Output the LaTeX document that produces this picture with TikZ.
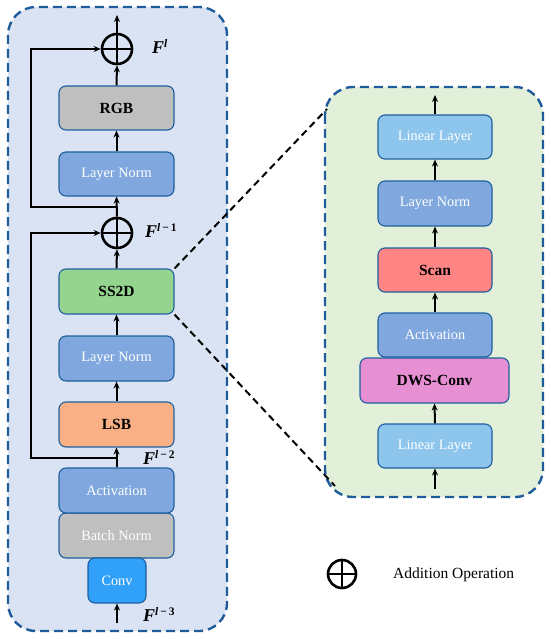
\documentclass[tikz,border=0pt]{standalone}
\usepackage{fontspec}
\setmainfont{Liberation Serif}
\usetikzlibrary{arrows.meta}
\definecolor{panelborder}{HTML}{1F5C99}
\definecolor{leftfill}{HTML}{DAE3F3}
\definecolor{rightfill}{HTML}{E2F0D9}
\definecolor{boxborder}{HTML}{1F5F9F}
\definecolor{normfill}{HTML}{80A8DE}
\definecolor{linfill}{HTML}{8EC5EC}
\definecolor{grayfill}{HTML}{BFBFBF}
\definecolor{ssfill}{HTML}{95D48E}
\definecolor{lsbfill}{HTML}{F8B084}
\definecolor{scanfill}{HTML}{FF8585}
\definecolor{dwsfill}{HTML}{E68FD2}
\definecolor{convfill}{HTML}{30A0F8}
\tikzset{
  panel/.style={draw=panelborder, line width=2.4pt, dash pattern=on 9pt off 5pt, rounded corners=28pt},
  blk/.style={draw=boxborder, line width=1.1pt, rounded corners=7pt, minimum width=115pt, minimum height=44pt, inner sep=0pt},
  wtxt/.style={text=white, font=\fontsize{14.3}{16}\selectfont},
  btxt/.style={text=black, font=\fontsize{15.5}{17}\selectfont\bfseries},
  arr/.style={line width=2pt, -{Stealth[length=7pt,width=6pt]}},
  plain/.style={line width=2pt},
  addop/.style={circle, draw=black, line width=2.6pt, minimum size=30pt, inner sep=0pt,
    path picture={\draw[line width=2.6pt] (path picture bounding box.north) -- (path picture bounding box.south)
      (path picture bounding box.west) -- (path picture bounding box.east);}},
  flab/.style={anchor=west, inner sep=0pt},
  zoomline/.style={line width=2pt, dash pattern=on 7pt off 4.5pt}
}
\newcommand{\FF}[1]{{\fontsize{18}{18}\selectfont\bfseries\itshape F}\raisebox{6pt}{\fontsize{11.5}{12}\selectfont\bfseries #1}}
\begin{document}
\begin{tikzpicture}[x=1pt,y=-1pt]
\useasboundingbox (0,0) rectangle (550,639);
% panels
\draw[panel, fill=leftfill] (8,7) rectangle (227,631);
\draw[panel, fill=rightfill] (325,87) rectangle (543,497);

% left column
\node[addop] (p1) at (117,49) {};
\node[blk, fill=grayfill, btxt] (rgb) at (116.5,108) {RGB};
\node[blk, fill=normfill, wtxt] (ln1) at (116.5,174) {Layer Norm};
\node[addop] (p2) at (117,233) {};
\node[blk, fill=ssfill, btxt, minimum height=45pt] (ss) at (116.5,291.5) {SS2D};
\node[blk, fill=normfill, wtxt, minimum height=45pt] (ln2) at (116.5,358.5) {Layer Norm};
\node[blk, fill=lsbfill, btxt, minimum height=45pt] (lsb) at (116.5,424.5) {LSB};
\node[blk, fill=grayfill, wtxt, minimum height=45pt] (bn) at (116.5,535.5) {Batch Norm};
\node[blk, fill=normfill, wtxt, minimum height=45pt] (act) at (116.5,490.5) {Activation};
\node[blk, fill=convfill, wtxt, minimum width=58pt, minimum height=45pt] (conv) at (117,580.5) {Conv};

\coordinate (t1) at (117,15);
\coordinate (b1) at (117,207);
\coordinate (b2) at (117,458);
\coordinate (bot) at (117,623);
\coordinate (c1) at (31,207);
\coordinate (c2) at (31,49);
\coordinate (c3) at (31,458);
\coordinate (c4) at (31,233);

\draw[arr] (p1.north) -- (t1);
\draw[arr] (rgb.north) -- (p1.south);
\draw[arr] (ln1.north) -- (rgb.south);
\draw[arr] (p2.north) -- (ln1.south);
\draw[arr, line join=miter] (b1) -- (c1) -- (c2) -- (p1.west);
\draw[arr] (ss.north) -- (p2.south);
\draw[arr] (ln2.north) -- (ss.south);
\draw[arr] (lsb.north) -- (ln2.south);
\draw[arr] (act.north) -- (lsb.south);
\draw[arr, line join=miter] (b2) -- (c3) -- (c4) -- (p2.west);
\draw[arr] (bot) -- (conv.south);

\node[flab] (fl) at (152,47) {\FF{\itshape l}};
\node[flab] (fl1) at (145,231) {\FF{\itshape l\upshape\,−\,1}};
\node[flab] (fl2) at (143,458) {\FF{\itshape l\upshape\,−\,2}};
\node[flab] (fl3) at (143,615) {\FF{\itshape l\upshape\,−\,3}};

% right column
\node[blk, fill=linfill, wtxt, minimum width=114pt] (ll1) at (435,137) {Linear Layer};
\node[blk, fill=normfill, wtxt, minimum width=114pt, minimum height=45pt] (rln) at (435,203.5) {Layer Norm};
\node[blk, fill=scanfill, btxt, minimum width=114pt] (scan) at (435,270) {Scan};
\node[blk, fill=normfill, wtxt, minimum width=114pt] (ract) at (435,335) {Activation};
\node[blk, fill=dwsfill, btxt, minimum width=149pt, minimum height=45pt] (dws) at (434.5,380.5) {DWS-Conv};
\node[blk, fill=linfill, wtxt, minimum width=114pt] (ll2) at (435,446) {Linear Layer};

\coordinate (rt) at (435,95);
\coordinate (rb) at (435,489);
\draw[arr] (ll1.north) -- (rt);
\draw[arr] (rln.north) -- (ll1.south);
\draw[arr] (scan.north) -- (rln.south);
\draw[arr] (ract.north) -- (scan.south);
\draw[arr] (ll2.north) -- (dws.south);
\draw[arr] (rb) -- (ll2.south);

% zoom lines
\coordinate (z1) at (327,109);
\coordinate (z2) at (335,486);
\draw[zoomline] (ss.north east) -- (z1);
\draw[zoomline] (ss.south east) -- (z2);

% legend
\node[addop, minimum size=28pt] (lg) at (342,574) {};
\node[anchor=west, inner sep=0pt, font=\fontsize{15.5}{17}\selectfont] (lgt) at (393,575) {Addition Operation};
\end{tikzpicture}
\end{document}
